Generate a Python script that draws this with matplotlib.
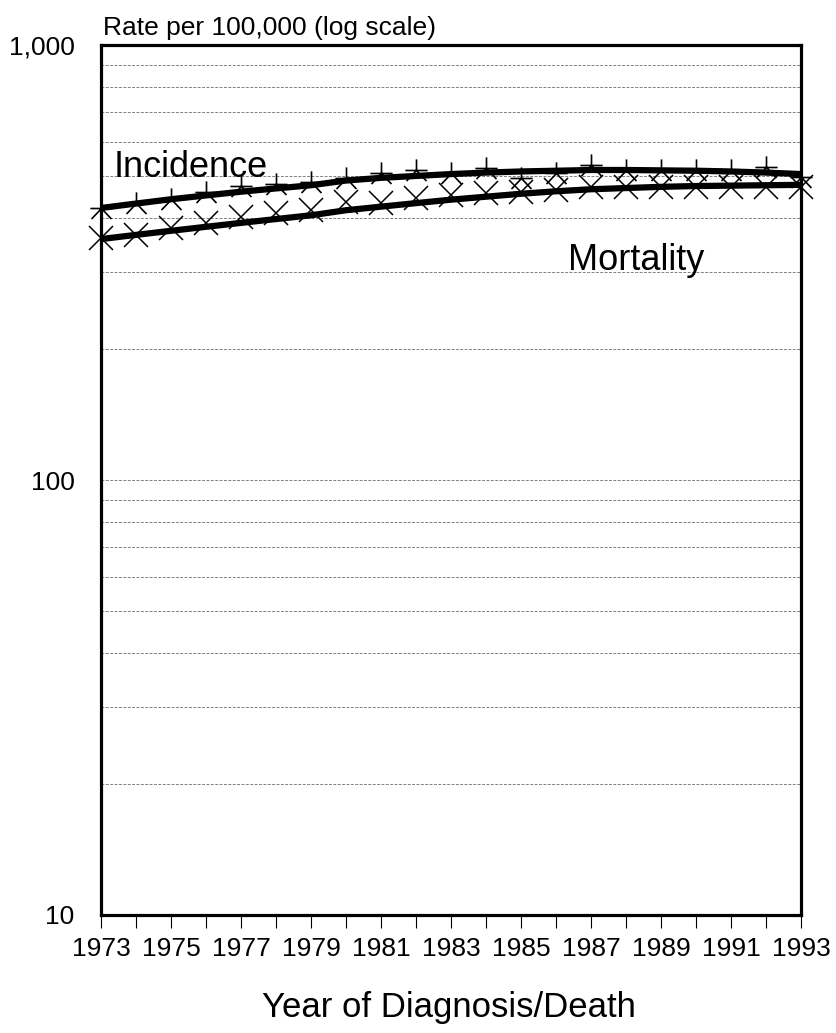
import numpy as np
import matplotlib
matplotlib.use("Agg")
import matplotlib.pyplot as plt
from matplotlib.path import Path
from matplotlib.ticker import FixedLocator, NullFormatter

plt.rcParams['font.family'] = ['Liberation Sans', 'DejaVu Sans']

years = list(range(1973, 1994))

# observed rates (markers)
incidence = [422, 433, 443, 459, 474, 479, 484, 494, 508, 516, 508,
             521, 494, 508, 530, 516, 516, 516, 516, 525, 497]
mortality = [360, 366, 380, 390, 402, 411, 417, 436, 433, 445, 452,
             457, 459, 464, 471, 471, 471, 471, 471, 471, 471]

# fitted trend lines
incidence_fit = [422, 432, 442, 451, 460, 468, 476, 488, 495, 500, 505,
                 509, 512, 514, 516, 516, 515, 514, 512, 509, 505]
mortality_fit = [358, 366, 374, 382, 390, 398, 406, 417, 425, 433, 441,
                 448, 455, 461, 466, 469, 472, 474, 475, 476, 477]

year_labels = [str(y) if (y - 1973) % 2 == 0 else '' for y in years]

# asterisk-like marker: stem up, crossbar, two legs down
star = Path([(0, 0), (0, 1.0), (-1.0, 0), (1.0, 0), (0, 0), (-0.9, -0.95), (0, 0), (0.9, -0.95)],
            [Path.MOVETO, Path.LINETO, Path.MOVETO, Path.LINETO,
             Path.MOVETO, Path.LINETO, Path.MOVETO, Path.LINETO])

fig = plt.figure(figsize=(8.37, 10.33), dpi=100)
ax = fig.add_axes([101/837, 1 - 915/1033, 700/837, 870/1033])

ax.set_yscale('log')
ax.set_ylim(10, 1000)
ax.set_xlim(1973, 1993)

ax.yaxis.set_major_locator(FixedLocator([10, 100, 1000]))
ax.set_yticklabels(['10', '100', '1,000'])
minors = [v * d for d in (10, 100) for v in range(2, 10)]
ax.yaxis.set_minor_locator(FixedLocator(minors))
ax.yaxis.set_minor_formatter(NullFormatter())
ax.grid(True, which='both', axis='y', linestyle=(0, (3, 1.5)), color='#808080', linewidth=0.7)
ax.set_axisbelow(True)

ax.set_xticks(years)
ax.set_xticklabels(year_labels)
ax.tick_params(axis='x', direction='out', length=9, width=0.8, pad=7, labelsize=19)
ax.tick_params(axis='y', which='both', length=0, pad=19, labelsize=19)

for s in ax.spines.values():
    s.set_linewidth(2.3)

ax.plot(years, incidence_fit, color='black', linewidth=4.5, solid_capstyle='butt', clip_on=False, zorder=3)
ax.plot(years, mortality_fit, color='black', linewidth=4.5, solid_capstyle='butt', clip_on=False, zorder=3)
ax.plot(years, incidence, linestyle='none', marker=star, markersize=16, markeredgewidth=1.2,
        markerfacecolor='none', color='black', clip_on=False, zorder=4)
ax.plot(years, mortality, linestyle='none', marker='x', markersize=17, markeredgewidth=1.1,
        color='black', clip_on=False, zorder=4)

ax.text(1973.35, 524, 'Incidence', fontsize=26, ha='left', va='center')
ax.text(1986.35, 320, 'Mortality', fontsize=26, ha='left', va='center')

fig.text(103/837, 1 - 28/1033, 'Rate per 100,000 (log scale)', fontsize=19, ha='left', va='center')
fig.text(449/837, 1 - 1008/1033, 'Year of Diagnosis/Death', fontsize=25, ha='center', va='center')

fig.savefig('out.png', dpi=100)
